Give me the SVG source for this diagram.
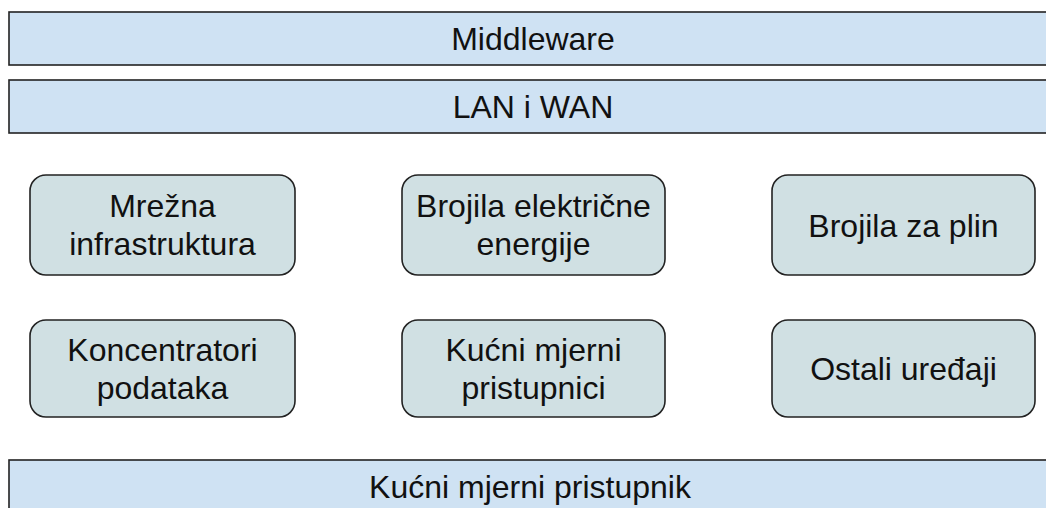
<svg xmlns="http://www.w3.org/2000/svg" width="1046" height="508" viewBox="0 0 1046 508">
<style>
.bar{fill:#cfe2f3;stroke:#222;stroke-width:1.6}
.box{fill:#d0e0e3;stroke:#222;stroke-width:1.6}
text{font-family:"Liberation Sans",Arial,sans-serif;font-size:32px;fill:#111;text-anchor:middle}
</style>
<rect width="1046" height="508" fill="#fff"/>
<g id="middleware"><rect class="bar" x="9" y="12" width="1060" height="53"/><text x="533" y="50">Middleware</text></g>
<g id="lanwan"><rect class="bar" x="9" y="80" width="1060" height="53"/><text x="533" y="118">LAN i WAN</text></g>
<g id="mrezna"><rect class="box" x="30" y="175" width="265" height="100" rx="16"/><text x="162.5" y="217">Mrežna</text><text x="162.5" y="255">infrastruktura</text></g>
<g id="brojila-el"><rect class="box" x="402" y="175" width="263" height="100" rx="16"/><text x="533.5" y="217">Brojila električne</text><text x="533.5" y="255">energije</text></g>
<g id="brojila-plin"><rect class="box" x="772" y="175" width="263" height="100" rx="16"/><text x="903.5" y="237">Brojila za plin</text></g>
<g id="koncentratori"><rect class="box" x="30" y="320" width="265" height="97" rx="16"/><text x="162.5" y="361">Koncentratori</text><text x="162.5" y="399">podataka</text></g>
<g id="kucni-mjerni"><rect class="box" x="402" y="320" width="263" height="97" rx="16"/><text x="533.5" y="361">Kućni mjerni</text><text x="533.5" y="399">pristupnici</text></g>
<g id="ostali"><rect class="box" x="772" y="320" width="263" height="97" rx="16"/><text x="903.5" y="380">Ostali uređaji</text></g>
<g id="kucni-pristupnik"><rect class="bar" x="9" y="460" width="1060" height="60"/><text x="530" y="498">Kućni mjerni pristupnik</text></g>
<g id="connectors"></g>
</svg>
